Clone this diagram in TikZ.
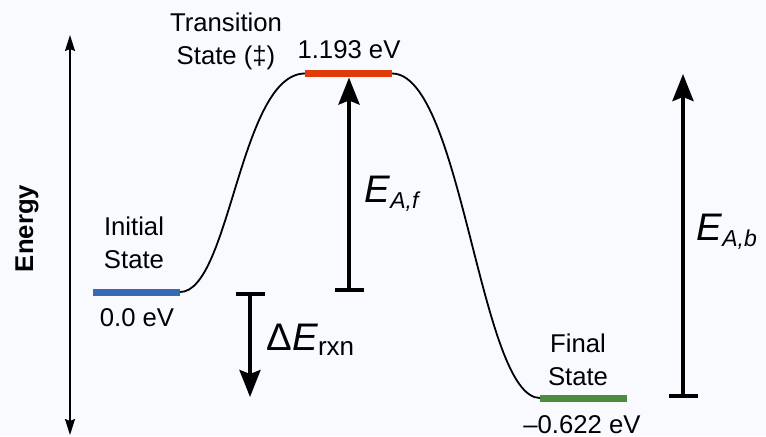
\documentclass[tikz,border=0pt]{standalone}
\usepackage{fontspec}
\setmainfont{Liberation Sans}
\usetikzlibrary{arrows.meta}

\definecolor{bgcol}{RGB}{248,250,255}
\definecolor{isblue}{RGB}{54,106,180}
\definecolor{tsred}{RGB}{224,60,10}
\definecolor{fsgreen}{RGB}{76,140,60}

\begin{document}
\begin{tikzpicture}[
  x=0.5pt, y=-0.5pt,
  font=\fontsize{12.85}{16.5}\selectfont,
  level/.style={line width=3.5pt},
  curve/.style={line width=0.9pt},
  axis/.style={line width=0.8pt, {Stealth[length=8pt,width=5pt,inset=1pt]}-{Stealth[length=8pt,width=5pt,inset=1pt]}},
  barr/.style={line width=1.9pt, {Bar[width=14.5pt]}-{Stealth[length=13.5pt,width=10.5pt,inset=2pt]}},
  lbl/.style={anchor=base, align=center, inner sep=0pt},
  elabel/.style={anchor=base west, inner sep=0pt, font=\fontsize{19.2}{23}\selectfont},
]
  \fill[bgcol] (0,0) rectangle (766,436);
  \useasboundingbox (0,0) rectangle (766,436);

  % ===== energy axis =====
  \coordinate (ax-top) at (70,35);
  \coordinate (ax-bot) at (70,435);
  \draw[axis] (ax-bot) -- (ax-top);
  \node[anchor=base, rotate=90, inner sep=0pt, font=\fontsize{12.85}{16.5}\selectfont\bfseries] (axlbl) at (33,228.5) {Energy};

  % ===== levels =====
  \coordinate (is-l) at (93,292);
  \coordinate (is-r) at (180,292);
  \coordinate (ts-l) at (305,73.5);
  \coordinate (ts-r) at (392,73.5);
  \coordinate (fs-l) at (540,398);
  \coordinate (fs-r) at (627,398);

  \draw[curve] (is-r) .. controls +(50,0) and +(-65,0) .. (ts-l);
  \draw[curve] (ts-r) .. controls +(70,0) and +(-60,0) .. (fs-l);
  \draw[level, isblue] (is-l) -- (is-r);
  \draw[level, tsred] (ts-l) -- (ts-r);
  \draw[level, fsgreen] (fs-l) -- (fs-r);

  % base of a two-line label = baseline of its last line
  \node[lbl] (is-name) at (134,268) {Initial\\State};
  \node[lbl] (is-val) at (137,326) {0.0 eV};
  \node[lbl] (ts-name) at (226,64) {Transition\\State (‡)};
  \node[lbl] (ts-val) at (349,58) {1.193 eV};
  \node[lbl] (fs-name) at (578,385) {Final\\State};
  \node[lbl] (fs-val) at (582,433) {–0.622 eV};

  % ===== barriers =====
  \coordinate (ef-bot) at (349,292);
  \coordinate (ef-top) at (349,77.5);
  \coordinate (dr-top) at (250,292);
  \coordinate (dr-bot) at (250,397);
  \coordinate (eb-bot) at (683,398);
  \coordinate (eb-top) at (683,74);

  \draw[barr] (ef-bot) -- (ef-top);
  \draw[barr] (dr-top) -- (dr-bot);
  \draw[barr] (eb-bot) -- (eb-top);

  \node[elabel] (ef-lbl) at (364,202) {\textit{E}\raisebox{-3pt}{\fontsize{11.5}{12}\selectfont\textit{A,f}}};
  \node[elabel] (dr-lbl) at (266,350) {Δ\textit{E}\raisebox{-2.5pt}{\fontsize{13}{13}\selectfont rxn}};
  \node[elabel] (eb-lbl) at (696,240) {\textit{E}\raisebox{-3pt}{\fontsize{11.5}{12}\selectfont\textit{A,b}}};
\end{tikzpicture}
\end{document}
